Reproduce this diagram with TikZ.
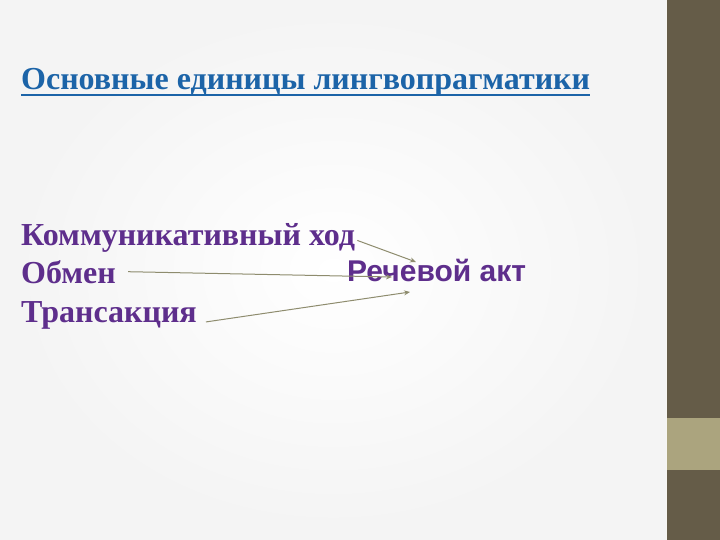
\documentclass[tikz,border=0pt]{standalone}
\usepackage{fontspec}
\setmainfont{Liberation Serif}
\setsansfont{Liberation Sans}
\usetikzlibrary{arrows.meta}

\definecolor{titleblue}{HTML}{1C64A8}
\definecolor{termviolet}{HTML}{5E2E8C}
\definecolor{arrowolive}{HTML}{8E8C6E}
\definecolor{bandbrown}{HTML}{655C48}
\definecolor{bandlight}{HTML}{ABA47E}

\tikzset{
  term/.style={anchor=base west, inner sep=0pt, text=termviolet, font=\fontsize{32}{36}\selectfont\bfseries},
  pfeil/.style={-{Stealth[length=6pt, width=5pt]}, arrowolive, line width=1pt}
}

\begin{document}
\begin{tikzpicture}[x=1pt, y=-1pt]
        \useasboundingbox (0,0) rectangle (720,540);
        % hintergrund
        \shade[inner color=white, outer color=gray!9] (0,0) rectangle (666,540);
        \fill[bandbrown] (666,0) rectangle (720,540);
        \fill[bandlight] (666,418) rectangle (720,470);
        \draw[white!90!bandlight, line width=1pt] (666,0) -- (666,540);

        % titel
        \node[anchor=base west, inner sep=0pt, text=titleblue,
              font=\fontsize{32}{36}\selectfont\bfseries] (titel) at (21,90)
              {Основные единицы лингвопрагматики};
        \draw[titleblue, line width=1.4pt] (21,95) -- (titel.east |- 0,95);

        % begriffe
        \node[term] (hod) at (21,245) {Коммуникативный ход};
        \node[term] (obmen) at (21,283) {Обмен};
        \node[term] (trans) at (21,322) {Трансакция};
        \node[anchor=base west, inner sep=0pt, text=termviolet,
              font=\sffamily\bfseries\fontsize{30}{33}\selectfont] (akt) at (347,281) {Речевой акт};

        \coordinate (e1) at (416,262);
        \coordinate (e2) at (392,277);
        \coordinate (e3) at (410,292);
        \draw[pfeil] (hod.east) ++(2,3) -- (e1);
        \draw[pfeil] (obmen.east) ++(12,0) -- (e2);
        \draw[pfeil] (trans.east) ++(9,7) -- (e3);
\end{tikzpicture}
\end{document}
